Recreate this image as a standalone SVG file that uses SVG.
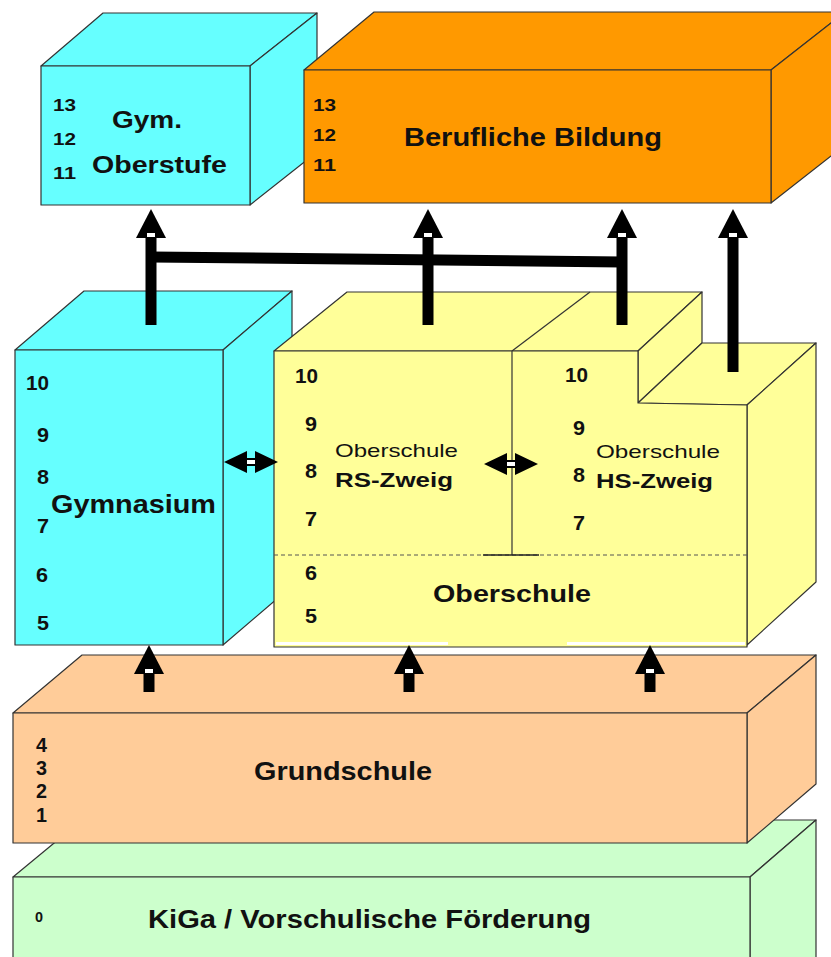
<svg xmlns="http://www.w3.org/2000/svg" width="831" height="957" viewBox="0 0 831 957">
<style>
.e{stroke:#333;stroke-width:1.2;stroke-linejoin:round}
.cy{fill:#66FFFF}.or{fill:#FF9900}.ye{fill:#FFFF99}.pe{fill:#FFCC99}.gr{fill:#CCFFCC}
text{font-family:"Liberation Sans",Arial,sans-serif;font-weight:bold;fill:#111}
.n{font-size:17px}
.m{font-size:20px}
.nar{font-family:"Liberation Sans Narrow","Liberation Sans",Arial,sans-serif}
.sm{font-weight:normal;font-size:19px}
</style>
<defs>
<g id="ah"><path d="M0,0 L-15,29 L15,29 Z" fill="#000"/><rect x="-4" y="24" width="8" height="4" fill="#fff"/></g>
<g id="dah"><path d="M0,0 L23,-11 L23,11 Z M54,0 L31,-11 L31,11 Z" fill="#000"/><rect x="22" y="-3" width="10" height="6" fill="#fff" stroke="#000" stroke-width="2"/></g>
</defs>

<g id="gym-oberstufe">
<polygon class="cy e" points="41,66 103,13 317,13 250,66"/>
<polygon class="cy e" points="250,66 317,13 317,152 250,205"/>
<rect class="cy e" x="41" y="66" width="209" height="139"/>
<text class="n" x="53" y="111" textLength="23" lengthAdjust="spacingAndGlyphs">13</text>
<text class="n" x="53" y="145" textLength="23" lengthAdjust="spacingAndGlyphs">12</text>
<text class="n" x="53" y="179" textLength="23" lengthAdjust="spacingAndGlyphs">11</text>
<text x="112" y="128" font-size="23" textLength="70" lengthAdjust="spacingAndGlyphs">Gym.</text>
<text x="92" y="173" font-size="23" textLength="135" lengthAdjust="spacingAndGlyphs">Oberstufe</text>
</g>

<g id="berufliche-bildung">
<polygon class="or e" points="304,70 374,12 845,12 771,70"/>
<polygon class="or e" points="771,70 845,12 845,145 771,203"/>
<rect class="or e" x="304" y="70" width="467" height="133"/>
<text class="n" x="313" y="111" textLength="23" lengthAdjust="spacingAndGlyphs">13</text>
<text class="n" x="313" y="141" textLength="23" lengthAdjust="spacingAndGlyphs">12</text>
<text class="n" x="313" y="171" textLength="23" lengthAdjust="spacingAndGlyphs">11</text>
<text x="404" y="146" font-size="25" textLength="258" lengthAdjust="spacingAndGlyphs">Berufliche Bildung</text>
</g>

<g id="gymnasium">
<polygon class="cy e" points="15,350 84,291 292,291 223,350"/>
<polygon class="cy e" points="223,350 292,291 292,586 223,645"/>
<rect class="cy e" x="15" y="350" width="208" height="295"/>
<text class="m" x="26" y="390" textLength="23" lengthAdjust="spacingAndGlyphs">10</text>
<text class="m" x="37" y="442" textLength="12" lengthAdjust="spacingAndGlyphs">9</text>
<text class="m" x="37" y="484" textLength="12" lengthAdjust="spacingAndGlyphs">8</text>
<text x="51" y="513" font-size="25" textLength="165" lengthAdjust="spacingAndGlyphs">Gymnasium</text>
<text class="m" x="37" y="533" textLength="12" lengthAdjust="spacingAndGlyphs">7</text>
<text class="m" x="36" y="582" textLength="12" lengthAdjust="spacingAndGlyphs">6</text>
<text class="m" x="37" y="630" textLength="12" lengthAdjust="spacingAndGlyphs">5</text>
</g>

<g id="oberschule">
<polygon class="ye e" points="274,351 347,292 702,292 638,351"/>
<line class="e" x1="512" y1="351" x2="590" y2="292"/>
<polygon class="ye e" points="638,351 702,292 702,343 638,403"/>
<polygon class="ye e" points="638,403 702,343 816,343 747,405"/>
<polygon class="ye e" points="747,405 816,343 816,582 747,645"/>
<polygon class="ye e" points="274,351 638,351 638,403 747,405 747,647 274,647"/>
<rect x="276" y="642" width="172" height="3" fill="#fff"/>
<rect x="567" y="642" width="178" height="3" fill="#fff"/>
<line x1="274" y1="555" x2="747" y2="555" stroke="#555" stroke-width="1" stroke-dasharray="4,3"/>
<line class="e" x1="512" y1="351" x2="512" y2="555"/>
<line x1="483" y1="555" x2="539" y2="555" stroke="#222" stroke-width="1.5"/>
<text class="m" x="295" y="383" textLength="23" lengthAdjust="spacingAndGlyphs">10</text>
<text class="m" x="305" y="431" textLength="12" lengthAdjust="spacingAndGlyphs">9</text>
<text class="m" x="305" y="478" textLength="12" lengthAdjust="spacingAndGlyphs">8</text>
<text class="m" x="305" y="526" textLength="12" lengthAdjust="spacingAndGlyphs">7</text>
<text class="m" x="305" y="580" textLength="12" lengthAdjust="spacingAndGlyphs">6</text>
<text class="m" x="305" y="623" textLength="12" lengthAdjust="spacingAndGlyphs">5</text>
<text class="sm" x="335" y="457" textLength="123" lengthAdjust="spacingAndGlyphs">Oberschule</text>
<text x="335" y="487" font-size="21" textLength="118" lengthAdjust="spacingAndGlyphs">RS-Zweig</text>
<text class="m" x="565" y="382" textLength="23" lengthAdjust="spacingAndGlyphs">10</text>
<text class="m" x="573" y="435" textLength="12" lengthAdjust="spacingAndGlyphs">9</text>
<text class="m" x="573" y="482" textLength="12" lengthAdjust="spacingAndGlyphs">8</text>
<text class="m" x="573" y="530" textLength="12" lengthAdjust="spacingAndGlyphs">7</text>
<text class="sm" x="596" y="458" textLength="124" lengthAdjust="spacingAndGlyphs">Oberschule</text>
<text x="596" y="488" font-size="21" textLength="117" lengthAdjust="spacingAndGlyphs">HS-Zweig</text>
<text x="433" y="602" font-size="24" textLength="158" lengthAdjust="spacingAndGlyphs">Oberschule</text>
</g>

<g id="kiga">
<polygon class="gr e" points="13,877 82,820 816,820 750,877"/>
<polygon class="gr e" points="750,877 816,820 816,960 750,960"/>
<rect class="gr e" x="13" y="877" width="737" height="90"/>
<text class="nar" x="35" y="922" font-size="15" textLength="8" lengthAdjust="spacingAndGlyphs">0</text>
<text class="nar" x="148" y="928" font-size="25" textLength="443" lengthAdjust="spacingAndGlyphs">KiGa / Vorschulische Förderung</text>
</g>

<g id="grundschule">
<polygon class="pe e" points="13,713 82,655 816,655 747,713"/>
<polygon class="pe e" points="747,713 816,655 816,784 747,843"/>
<rect class="pe e" x="13" y="713" width="734" height="130"/>
<text class="nar" x="36" y="752" font-size="20" textLength="11" lengthAdjust="spacingAndGlyphs">4</text>
<text class="nar" x="36" y="775" font-size="20" textLength="11" lengthAdjust="spacingAndGlyphs">3</text>
<text class="nar" x="36" y="798" font-size="20" textLength="11" lengthAdjust="spacingAndGlyphs">2</text>
<text class="nar" x="36" y="822" font-size="20" textLength="11" lengthAdjust="spacingAndGlyphs">1</text>
<text class="nar" x="254" y="780" font-size="25" textLength="178" lengthAdjust="spacingAndGlyphs">Grundschule</text>
</g>

<g id="connectors">
<g stroke="#000" stroke-width="11" fill="none">
<line x1="151" y1="325" x2="151" y2="234"/>
<line x1="428" y1="325" x2="428" y2="234"/>
<line x1="622" y1="325" x2="622" y2="234"/>
<line x1="733" y1="372" x2="733" y2="234"/>
<line x1="151" y1="257" x2="622" y2="262"/>
<line x1="149" y1="692" x2="149" y2="670"/>
<line x1="409" y1="692" x2="409" y2="670"/>
<line x1="650" y1="692" x2="650" y2="670"/>
</g>
<use href="#ah" x="151" y="209"/>
<use href="#ah" x="428" y="209"/>
<use href="#ah" x="622" y="209"/>
<use href="#ah" x="733" y="209"/>
<use href="#ah" x="149" y="645"/>
<use href="#ah" x="409" y="645"/>
<use href="#ah" x="650" y="645"/>
<use href="#dah" x="224" y="462"/>
<use href="#dah" x="484" y="464"/>
</g>
</svg>
